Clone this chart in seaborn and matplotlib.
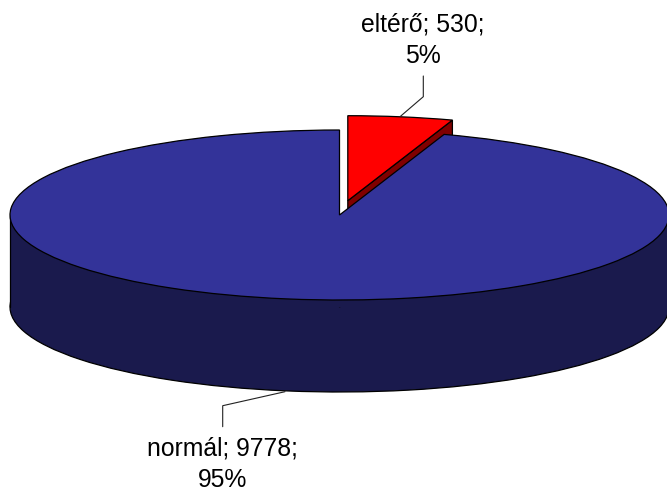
import numpy as np
import matplotlib
matplotlib.use("Agg")
import matplotlib.pyplot as plt
import seaborn as sns

categories = ["eltérő", "normál"]
values = [530, 9778]
percent_labels = ["5%", "95%"]
top_colors = ["#ff0000", "#333399"]
side_colors = ["#800000", "#1a1a4d"]

W, H = 667, 492
CX, CY, A, B, DEPTH = 339.5, 215.0, 329.5, 85.0, 92.0
EXPLODE_PX = (8.3, 14.3)

sns.set_theme(style="white")
plt.rcParams["font.family"] = ["Liberation Sans", "DejaVu Sans"]

fig = plt.figure(figsize=(W / 100, H / 100), dpi=100, facecolor="white")
ax = fig.add_axes([0, 0, 1, 1])
EDGE = dict(edgecolor="black", linewidth=0.9)


def px(x, y):
    return (x - CX) / A, (CY - y) / B


def layer(center, colors, edges="black"):
    wedges, _ = ax.pie(values, colors=colors, startangle=90, counterclock=False,
                       center=center, radius=1, frame=False,
                       wedgeprops=dict(edgecolor=edges, linewidth=0.9))
    return wedges


depth = DEPTH / B
ex, ey = EXPLODE_PX[0] / A, EXPLODE_PX[1] / B
sweep = 2 * np.pi * values[0] / sum(values)
tip_x, tip_y = ex + np.sin(sweep), ey + np.cos(sweep)

# exploded slice: top and its cut face, drawn first so the big slice hides the rest
w = layer((ex, ey), [top_colors[0], "none"])
w[1].set_visible(False)
w[0].set_zorder(3)
ax.fill([ex, tip_x, tip_x, ex], [ey, tip_y, tip_y - depth, ey - depth],
        facecolor=side_colors[0], zorder=2, **EDGE)

# large slice: bottom rim, wall, top
w = layer((0, -depth), ["none", side_colors[1]])
w[0].set_visible(False)
w[1].set_zorder(4)
ax.fill_between([-1, 1], [-depth, -depth], [0, 0], color=side_colors[1], lw=0, zorder=5)
ax.plot([-1, -1], [0, -depth], color="black", lw=0.9, zorder=6)
ax.plot([1, 1], [0, -depth], color="black", lw=0.9, zorder=6)
w = layer((0, 0), ["none", top_colors[1]])
w[0].set_visible(False)
w[1].set_zorder(7)

ax.set_aspect("auto")
ax.set_xlim(px(0, 0)[0], px(W, 0)[0])
ax.set_ylim(px(0, H)[1], px(0, 0)[1])
ax.axis("off")

# leader lines and labels
leaders = [[(400, 116.7), (423.3, 96.7), (423.3, 76)],
           [(285, 391.7), (222.7, 405.7), (222.7, 426.7)]]
label_pos = [(422.5, 40.5), (222.5, 464)]
for i, name in enumerate(categories):
    pts = np.array([px(*p) for p in leaders[i]])
    ax.plot(pts[:, 0], pts[:, 1], color="#222222", lw=0.8, zorder=8, solid_joinstyle="miter")
    tx, ty = px(*label_pos[i])
    ax.text(tx, ty, f"{name}; {values[i]};\n{percent_labels[i]}", ha="center", va="center",
            fontsize=17.8, color="black", linespacing=1.38, zorder=9)

fig.savefig("out.png", dpi=100, facecolor="white")
